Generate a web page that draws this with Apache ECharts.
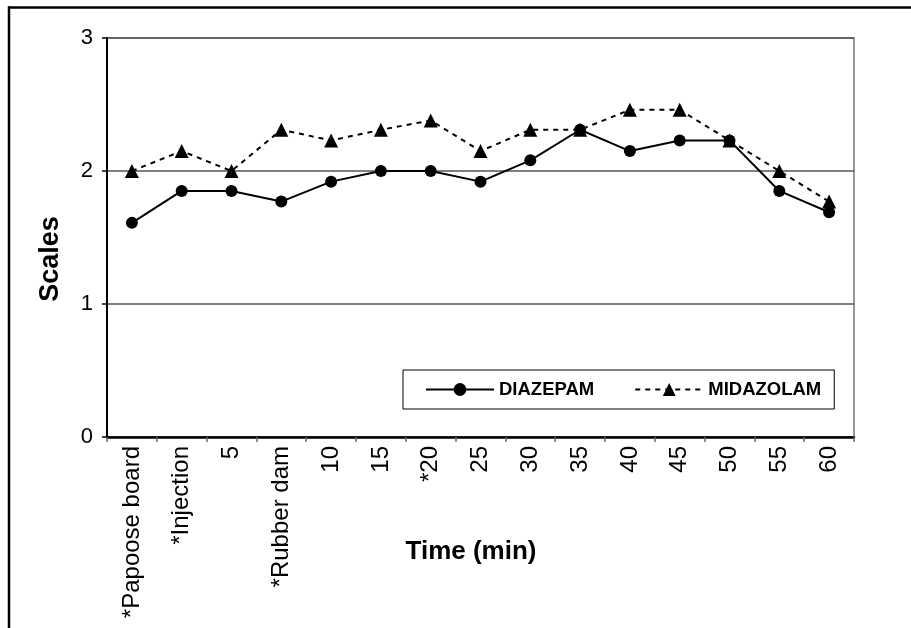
<!DOCTYPE html>
<html>
<head>
    <meta charset="utf-8">
    <title>Scales over time</title>
    <script src="https://cdn.jsdelivr.net/npm/echarts@6/dist/echarts.min.js"></script>
    <style>
        html, body { margin: 0; padding: 0; background: #fff; }
    </style>
</head>
<body>
<div id="main" style="width: 911px;height:628px;"></div>
<script type="text/javascript">
    // categories (x axis)
    var categories = ['*Papoose board', '*Injection', '5', '*Rubber dam', '10', '15', '*20',
        '25', '30', '35', '40', '45', '50', '55', '60'];
    // series values
    var diazepam = [1.61, 1.85, 1.85, 1.77, 1.92, 2.00, 2.00, 1.92, 2.08, 2.31, 2.15, 2.23, 2.23, 1.85, 1.69];
    var midazolam = [2.00, 2.15, 2.00, 2.31, 2.23, 2.31, 2.38, 2.15, 2.31, 2.31, 2.46, 2.46, 2.23, 2.00, 1.77];
    // y axis ticks
    var yTicks = [0, 1, 2, 3];

    var font = 'Liberation Sans, Arial, sans-serif';
    var myChart = echarts.init(document.getElementById('main'));

    var option = {
        animation: false,
        backgroundColor: '#fff',
        textStyle: { fontFamily: font, color: '#000' },
        grid: {
            left: 107,
            right: 57,
            top: 38,
            bottom: 191,
            show: true,
            borderColor: '#777',
            borderWidth: 1.5,
            backgroundColor: 'transparent'
        },
        legend: {
            left: 403,
            top: 370,
            orient: 'horizontal',
            padding: [10, 13, 10, 22],
            itemGap: 40,
            itemWidth: 68,
            itemHeight: 16,
            borderColor: '#000',
            borderWidth: 1,
            textStyle: { fontFamily: font, fontSize: 18.5, fontWeight: 'bold', color: '#000' },
            data: ['DIAZEPAM', 'MIDAZOLAM']
        },
        xAxis: {
            type: 'category',
            data: categories,
            boundaryGap: true,
            axisLine: { lineStyle: { color: '#000', width: 2.5 } },
            axisTick: { show: true, length: 5, lineStyle: { color: '#666', width: 1.5 } },
            axisLabel: {
                rotate: 90,
                margin: 9,
                interval: 0,
                fontFamily: font,
                fontSize: 24,
                color: '#000'
            }
        },
        yAxis: {
            type: 'value',
            min: yTicks[0],
            max: yTicks[yTicks.length - 1],
            interval: 1,
            axisLine: { show: true, lineStyle: { color: '#000', width: 2 } },
            axisTick: { show: true, length: 5, lineStyle: { color: '#000', width: 1.5 } },
            axisLabel: { margin: 14, fontFamily: font, fontSize: 22, color: '#000' },
            splitLine: { show: true, lineStyle: { color: '#555', width: 1.5 } }
        },
        graphic: [
            // outer frame (top and left edges)
            { type: 'line', shape: { x1: 8, y1: 7.5, x2: 911, y2: 7.5 }, style: { stroke: '#000', lineWidth: 2.5 } },
            { type: 'line', shape: { x1: 9, y1: 6.5, x2: 9, y2: 628 }, style: { stroke: '#000', lineWidth: 2.5 } },
            {
                type: 'text', x: 51, y: 259, rotation: Math.PI / 2,
                style: { text: 'Scales', font: 'bold 27px ' + font, fill: '#000', align: 'center', verticalAlign: 'middle' }
            },
            {
                type: 'text', x: 471, y: 552,
                style: { text: 'Time (min)', font: 'bold 26px ' + font, fill: '#000', align: 'center', verticalAlign: 'middle' }
            }
        ],
        series: [
            {
                name: 'DIAZEPAM',
                type: 'line',
                data: diazepam,
                symbol: 'circle',
                symbolSize: 12,
                itemStyle: { color: '#000' },
                lineStyle: { color: '#000', width: 2, type: 'solid' }
            },
            {
                name: 'MIDAZOLAM',
                type: 'line',
                data: midazolam,
                symbol: 'triangle',
                symbolSize: 14,
                itemStyle: { color: '#000' },
                lineStyle: { color: '#000', width: 2, type: [5, 5] }
            }
        ]
    };
    myChart.setOption(option);
</script>
</body>
</html>
